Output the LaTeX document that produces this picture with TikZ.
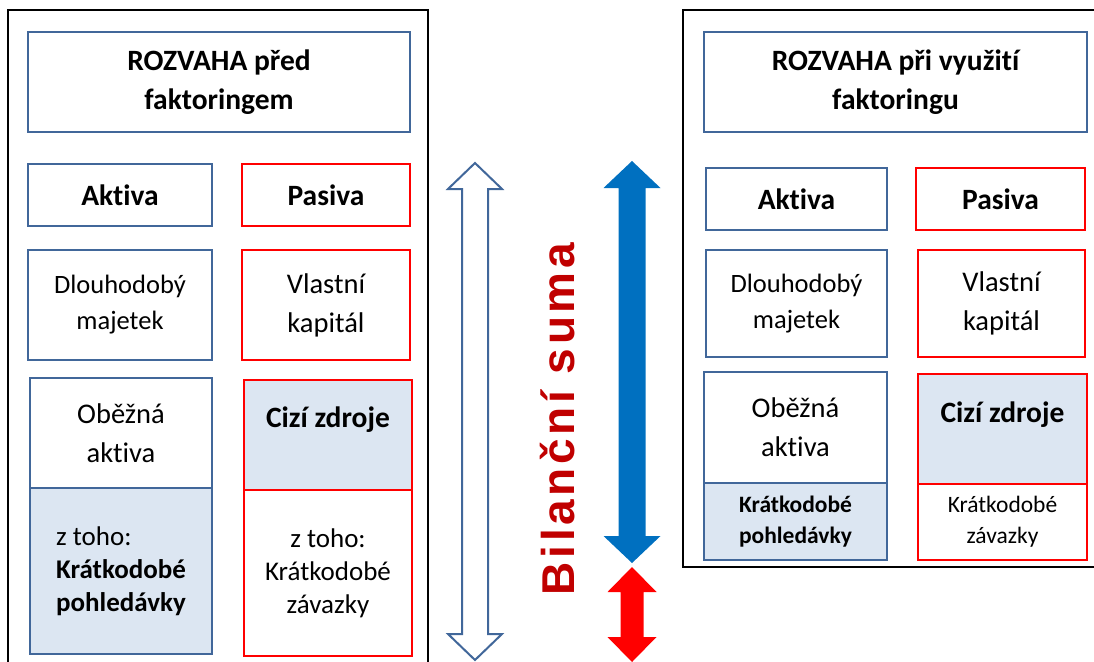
\documentclass[tikz,border=0pt]{standalone}
\usepackage{fontspec}
\setmainfont{Carlito}[Ligatures=NoCommon]
\newfontfamily\sumafont[LetterSpace=8]{Liberation Sans}
\usepackage{tikz}
\usetikzlibrary{positioning}
\definecolor{modra}{HTML}{41679A}
\definecolor{svetla}{HTML}{DCE6F2}
\definecolor{cervena}{HTML}{FF0000}
\definecolor{tmavocervena}{HTML}{C00000}
\definecolor{modrasipka}{HTML}{0070C0}
\tikzset{
  ramec/.style={draw=black,line width=2pt},
  akt/.style={draw=modra,line width=2pt,inner sep=0pt,align=center},
  pas/.style={draw=cervena,line width=2pt,inner sep=0pt,align=center},
  podklad/.style={fill=svetla},
  rozmer/.style 2 args={minimum width=#1pt,minimum height=#2pt},
  nadpis/.style={font=\fontsize{29.5}{39}\selectfont\bfseries},
  hlavni/.style={font=\fontsize{28.5}{39}\selectfont},
  uzsi/.style={font=\fontsize{26.5}{36}\selectfont},
  tucne/.style={font=\fontsize{29.5}{38}\selectfont\bfseries},
  mensi/.style={font=\fontsize{27}{33}\selectfont},
  drobne/.style={font=\fontsize{23.5}{31}\selectfont},
}
\begin{document}
\begin{tikzpicture}[x=1pt,y=-1pt]
  \useasboundingbox (0,0) rectangle (1094,661);
  % ramecky
  \draw[ramec] (8,665) -- (8,10) -- (428,10) -- (428,665);
  \draw[ramec] (1098,10) -- (683,10) -- (683,567) -- (1098,567);

  % rozvaha pred faktoringem
  \node[akt,nadpis,rozmer={382}{100}] (nadpisL) at (219,82) {ROZVAHA před\\faktoringem};
  \node[akt,tucne,rozmer={184}{62}] (aktL) at (120,195) {Aktiva};
  \node[pas,tucne,rozmer={168}{62}] (pasL) at (326,195) {Pasiva};
  \node[akt,uzsi,rozmer={184}{110}] (dlouhL) at (120,305) {Dlouhodobý\\majetek};
  \node[pas,hlavni,rozmer={168}{110}] (vlastL) at (326,305) {Vlastní\\kapitál};
  \node[akt,hlavni,rozmer={182}{110}] (obezL) at (121,433) {Oběžná\\aktiva};
  \node[akt,podklad,mensi,rozmer={182}{166},align=left] (pohlL) at (121,571)
    {z toho:\\\textbf{Krátkodobé}\\\textbf{pohledávky}};
  \node[pas,podklad,rozmer={168}{110}] (ciziL) at (328,435) {};
  \node[tucne] (ciziLtext) at (ciziL.north |- 0,420) {Cizí zdroje};
  \node[pas,mensi,rozmer={168}{166}] (zavL) at (328,573) {z toho:\\Krátkodobé\\závazky};

  % rozvaha pri vyuziti faktoringu
  \node[akt,nadpis,rozmer={383}{100}] (nadpisP) at (895.5,82) {ROZVAHA při využití\\faktoringu};
  \node[akt,tucne,rozmer={181}{62}] (aktP) at (796.5,199) {Aktiva};
  \node[pas,tucne,rozmer={169}{62}] (pasP) at (1000.5,199) {Pasiva};
  \node[akt,uzsi,rozmer={181}{107}] (dlouhP) at (796.5,303.5) {Dlouhodobý\\majetek};
  \node[pas,hlavni,rozmer={167}{107}] (vlastP) at (1001.5,303.5) {Vlastní\\kapitál};
  \node[akt,hlavni,rozmer={183}{111}] (obezP) at (795.5,427.5) {Oběžná\\aktiva};
  \node[akt,podklad,drobne,rozmer={183}{77}] (pohlP) at (795.5,521.5)
    {\textbf{Krátkodobé}\\\textbf{pohledávky}};
  \node[pas,podklad,rozmer={169}{110}] (ciziP) at (1002.5,429) {};
  \node[tucne] (ciziPtext) at (ciziP.north |- 0,415) {Cizí zdroje};
  \node[pas,drobne,rozmer={169}{76}] (zavP) at (1002.5,522) {Krátkodobé\\závazky};

  % sipky
  \draw[modra,line width=2pt,fill=white] (475,163) -- (502,189) -- (488,189) -- (488,634)
    -- (502,634) -- (475,660) -- (448,634) -- (462,634) -- (462,189) -- (448,189) -- cycle;
  \fill[modrasipka] (632,161) -- (660.5,188) -- (645.5,188) -- (645.5,536) -- (660.5,536)
    -- (632,563) -- (603.5,536) -- (618.5,536) -- (618.5,188) -- (603.5,188) -- cycle;
  \fill[cervena] (632,567) -- (656.5,592) -- (643.5,592) -- (643.5,637) -- (656.5,637)
    -- (632,662) -- (607.5,637) -- (620.5,637) -- (620.5,592) -- (607.5,592) -- cycle;
  \node[rotate=90,text=tmavocervena,font=\sumafont\bfseries\fontsize{46}{50}\selectfont]
    (suma) at (558,419) {Bilanční suma};
\end{tikzpicture}
\end{document}
